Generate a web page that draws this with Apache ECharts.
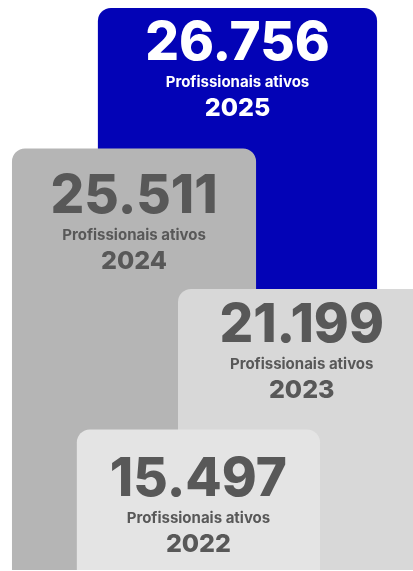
<!DOCTYPE html>
<html><head><meta charset="utf-8">
<script src="https://cdn.jsdelivr.net/npm/echarts@6/dist/echarts.min.js"></script>
<style>html,body{margin:0;padding:0;background:#fff}#c{width:413px;height:571px}</style>
</head><body><div id="c"></div>
<script>
// ---- data ----
const years = ['2025', '2024', '2023', '2022'];
const activeProfessionals = [26756, 25511, 21199, 15497];
const subtitle = 'Profissionais ativos';

// ---- layout / style (not data) ----
const cardSpan = { '2025': [23.7, 91.3], '2024': [2.9, 62.0], '2023': [43.1, 103.0], '2022': [18.6, 77.5] };
const textNudge = { '2025': -6, '2024': 7, '2023': -5, '2022': 9 };
const cardColor = { '2025': '#0303b6', '2024': '#b5b5b5', '2023': '#d8d8d8', '2022': '#e4e4e4' };
const inkColor = { '2025': '#ffffff', '2024': '#585858', '2023': '#585858', '2022': '#585858' };

// step height of each card = rank of its value
const sortedVals = activeProfessionals.slice().sort((a, b) => a - b);
const ranks = activeProfessionals.map(v => sortedVals.indexOf(v) + 1);

function fmt(n) { return String(n).replace(/\B(?=(\d{3})+(?!\d))/g, '.'); }

const chart = echarts.init(document.getElementById('c'));
chart.setOption({
  animation: false,
  backgroundColor: '#ffffff',
  grid: { left: 0, right: 0, top: 8, bottom: 1 },
  xAxis: { type: 'value', min: 0, max: 100, show: false },
  yAxis: { type: 'value', min: 0, max: ranks.length, show: false },
  series: [{
    type: 'custom',
    clip: false,
    data: years.map((y, i) => ({ name: y, value: [i, ranks[i], activeProfessionals[i]] })),
    renderItem: function (params, api) {
      const i = api.value(0);
      const y = years[i];
      const span = cardSpan[y];
      const tl = api.coord([span[0], api.value(1)]);
      const br = api.coord([span[1], 0]);
      const x0 = tl[0], y0 = tl[1], w = br[0] - tl[0], h = br[1] - tl[1];
      const cx = x0 + w / 2;
      const ink = inkColor[y];
      const ty = y0 + textNudge[y];
      const txt = (t, dy, font) => ({
        type: 'text',
        style: { x: cx, y: ty + dy, text: t, fill: ink, font: font,
          align: 'center', verticalAlign: 'middle', textAlign: 'center', textVerticalAlign: 'middle' }
      });
      return {
        type: 'group',
        children: [
          { type: 'rect', shape: { x: x0, y: y0, width: w, height: h, r: [13, 13, 0, 0] }, style: { fill: cardColor[y] } },
          txt(fmt(api.value(2)), 42, '800 53px Inter'),
          txt(subtitle, 80, '700 15px Inter'),
          txt(y, 106, '800 25px Inter')
        ]
      };
    }
  }]
});
</script></body></html>
